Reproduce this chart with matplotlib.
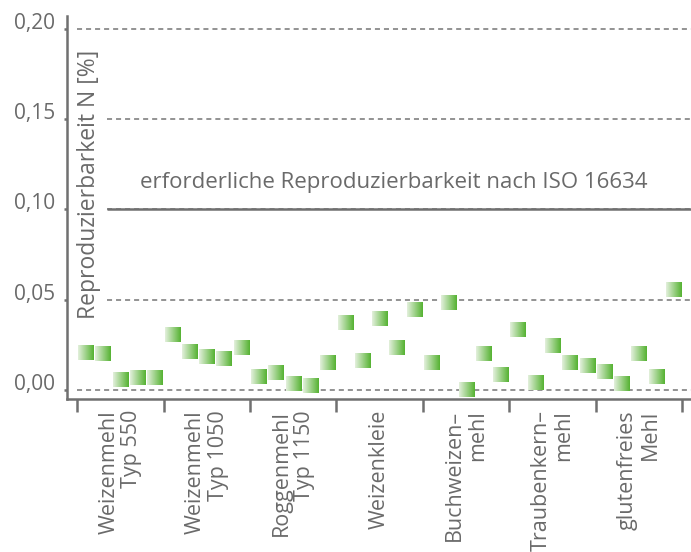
#!/usr/bin/env python3
"""Reproduzierbarkeit N je Mehlsorte - Streudiagramm"""

import numpy as np
import matplotlib
matplotlib.use('Agg')
import matplotlib.pyplot as plt
from matplotlib.colors import LinearSegmentedColormap

GREY_TEXT = '#6a6a6a'
GREY_AXIS = '#707070'
GREY_GRID = '#8a8a8a'
GREEN_LIGHT = '#e3f0dc'
GREEN_DARK = '#55b232'

plt.rcParams['font.family'] = ['Open Sans', 'DejaVu Sans']

groups = ['Weizenmehl\nTyp 550', 'Weizenmehl\nTyp 1050', 'Roggenmehl\nTyp 1150',
          'Weizenkleie', 'Buchweizen–\nmehl', 'Traubenkern–\nmehl', 'glutenfreies\nMehl']

# 5 Messungen je Mehlsorte
values = [
    [0.0206, 0.0200, 0.0056, 0.0067, 0.0067],
    [0.0310, 0.0214, 0.0183, 0.0175, 0.0233],
    [0.0072, 0.0094, 0.0033, 0.0025, 0.0153],
    [0.0375, 0.0164, 0.0394, 0.0233, 0.0444],
    [0.0153, 0.0486, 0.0000, 0.0203, 0.0083],
    [0.0333, 0.0044, 0.0244, 0.0153, 0.0133],
    [0.0103, 0.0036, 0.0203, 0.0072, 0.0556],
]

ytick_values = [0.00, 0.05, 0.10, 0.15, 0.20]
ytick_labels = ['0,00', '0,05', '0,10', '0,15', '0,20']
required_n = 0.10
required_label = 'erforderliche Reproduzierbarkeit nach ISO 16634'
ylabel = 'Reproduzierbarkeit N [%]'


def main():
    fig = plt.figure(figsize=(6.91, 5.52), dpi=100)
    ax = fig.add_axes([0.097, 0.2772, 0.903, 0.6938])

    n_per = len(values[0])
    xmin, xmax = -0.58, len(groups) * n_per + 0.51
    ymin, ymax = -0.005, 0.2072

    # gridlines (some start right of the y label)
    for v in ytick_values:
        start = 0 if v in (0.00, 0.20) else 1.73
        ax.hlines(v, start, xmax, colors=GREY_GRID, linewidth=1.3,
                  linestyles=(0, (2.8, 2.2)), zorder=1)
    ax.hlines(required_n, 1.73, xmax, colors=GREY_AXIS, linewidth=1.8, zorder=2)
    ax.text(3.64, required_n + 0.0117, required_label, color=GREY_TEXT,
            fontsize=16, ha='left', va='baseline')

    # gradient squares
    cmap = LinearSegmentedColormap.from_list('grn', [GREEN_LIGHT, GREEN_DARK])
    grad = np.linspace(0, 1, 64).reshape(1, -1)
    w, h = 0.87, 0.0083
    for g, vals in enumerate(values):
        for k, v in enumerate(vals):
            x = g * n_per + k + 0.5
            ax.imshow(grad, cmap=cmap, aspect='auto', interpolation='bilinear',
                      extent=[x - w / 2, x + w / 2, v - h / 2, v + h / 2], zorder=3)

    ax.set_xlim(xmin, xmax)
    ax.set_ylim(ymin, ymax)

    for s in ('top', 'right'):
        ax.spines[s].set_visible(False)
    for s in ('left', 'bottom'):
        ax.spines[s].set_color(GREY_AXIS)
        ax.spines[s].set_linewidth(1.8)

    ax.set_yticks(ytick_values)
    ax.set_yticklabels(ytick_labels, fontsize=15, color=GREY_TEXT)
    for lab in ax.get_yticklabels():
        lab.set_va('baseline')
    ax.tick_params(axis='y', length=2.5, width=1.8, color=GREY_AXIS, pad=6)

    ax.set_xticks(np.arange(0, len(groups) * n_per + 1, n_per))
    ax.set_xticklabels([])
    ax.tick_params(axis='x', which='major', length=9.4, width=1.8, color=GREY_AXIS)
    ax.set_xticks(np.arange(len(groups)) * n_per + n_per / 2, minor=True)
    ax.set_xticklabels(groups, minor=True, rotation=90, fontsize=15.5, color=GREY_TEXT,
                       ha='center', va='top', linespacing=1.12)
    for lab in ax.get_xticklabels(minor=True):
        lab.set_multialignment('right')
    ax.tick_params(axis='x', which='minor', length=0, pad=8)

    ax.text(0.68, 0.114, ylabel, rotation=90, fontsize=16.5, color=GREY_TEXT,
            ha='center', va='center')

    fig.savefig('out.png', dpi=100)
    plt.close(fig)


if __name__ == '__main__':
    main()
